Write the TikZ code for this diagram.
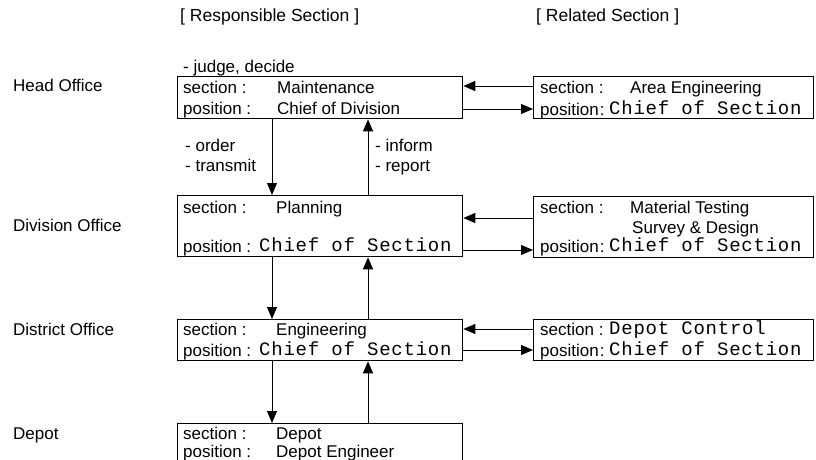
\documentclass[tikz,border=0pt]{standalone}
\usepackage{fontspec}
\setmainfont{Liberation Sans}
\newfontfamily\courfont[LetterSpace=4]{Liberation Mono}
\usetikzlibrary{arrows.meta,calc}

\tikzset{
  unitbox/.style={draw=black, line width=1.3pt, rectangle, inner sep=0pt, anchor=north west},
  txt/.style={anchor=base west, inner sep=0pt, font=\fontsize{17}{20}\selectfont},
  mono/.style={anchor=base west, inner sep=0pt, font=\courfont\fontsize{19}{21}\selectfont},
  heading/.style={anchor=base west, inner sep=0pt, font=\fontsize{17.5}{20}\selectfont},
  flow/.style={draw=black, line width=1pt, -{Triangle[length=12pt,width=10pt]}},
}

\begin{document}
\begin{tikzpicture}[x=1pt, y=-1pt]
\useasboundingbox (0,0) rectangle (816,460);
\clip (0,0) rectangle (816,460);

% column headings
\node[heading] (hresp) at (180,22) {[ Responsible Section ]};
\node[heading] (hrel)  at (536,22) {[ Related Section ]};

% organisation levels
\node[txt] (lhead)  at (13,92)  {Head Office};
\node[txt] (ldiv)   at (13,231) {Division Office};
\node[txt] (ldist)  at (13,335) {District Office};
\node[txt] (ldepot) at (13,439) {Depot};

% responsible section boxes
\node[unitbox, minimum width=285pt, minimum height=42pt] (b1) at (177,76)  {};
\node[unitbox, minimum width=285pt, minimum height=61pt] (b2) at (177,195) {};
\node[unitbox, minimum width=285pt, minimum height=41pt] (b3) at (177,319) {};
\node[unitbox, minimum width=285pt, minimum height=60pt] (b4) at (177,423) {};

% related section boxes
\node[unitbox, minimum width=280pt, minimum height=42pt] (r1) at (533,76)  {};
\node[unitbox, minimum width=280pt, minimum height=61pt] (r2) at (533,196) {};
\node[unitbox, minimum width=280pt, minimum height=41pt] (r3) at (533,319) {};

% Head Office
\node[txt] (judge) at (183,72) {- judge, decide};
\node[txt] (b1s)  at (183,93)  {section :};
\node[txt] (b1sv) at (277,93)  {Maintenance};
\node[txt] (b1p)  at (183,114) {position :};
\node[txt] (b1pv) at (277,114) {Chief of Division};

\node[txt]  (r1s)  at (540,93)  {section :};
\node[txt]  (r1sv) at (630,93)  {Area Engineering};
\node[txt]  (r1p)  at (540,115) {position\hspace{1pt}:};
\node[mono] (r1pv) at (609,114) {Chief of Section};

% Division Office
\node[txt]  (b2s)  at (183,213) {section :};
\node[txt]  (b2sv) at (276,213) {Planning};
\node[txt]  (b2p)  at (183,252) {position :};
\node[mono] (b2pv) at (259,251) {Chief of Section};

\node[txt]  (r2s)  at (540,213) {section :};
\node[txt]  (r2sv) at (630,213) {Material Testing};
\node[txt]  (r2sw) at (632,233) {Survey \& Design};
\node[txt]  (r2p)  at (540,252) {position\hspace{1pt}:};
\node[mono] (r2pv) at (609,251) {Chief of Section};

% District Office
\node[txt]  (b3s)  at (183,335) {section :};
\node[txt]  (b3sv) at (276,335) {Engineering};
\node[txt]  (b3p)  at (183,356) {position :};
\node[mono] (b3pv) at (259,355) {Chief of Section};

\node[txt]  (r3s)  at (540,335) {section :};
\node[mono] (r3sv) at (609,334) {Depot Control};
\node[txt]  (r3p)  at (540,356) {position\hspace{1pt}:};
\node[mono] (r3pv) at (609,355) {Chief of Section};

% Depot
\node[txt] (b4s)  at (183,439) {section :};
\node[txt] (b4sv) at (276,439) {Depot};
\node[txt] (b4p)  at (183,457) {position :};
\node[txt] (b4pv) at (276,457) {Depot Engineer};

% instruction / reporting notes
\node[txt] (order)    at (185,151) {- order};
\node[txt] (transmit) at (185,171) {- transmit};
\node[txt] (inform)   at (375,151) {- inform};
\node[txt] (report)   at (375,171) {- report};

% vertical flows: orders down, reports up
\draw[flow] ($(b1.south west)+(95,0)$)  -- ($(b2.north west)+(95,0)$);
\draw[flow] ($(b2.north west)+(191,0)$) -- ($(b1.south west)+(191,0)$);
\draw[flow] ($(b2.south west)+(95,0)$)  -- ($(b3.north west)+(95,0)$);
\draw[flow] ($(b3.north west)+(191,0)$) -- ($(b2.south west)+(191,0)$);
\draw[flow] ($(b3.south west)+(95,0)$)  -- ($(b4.north west)+(95,0)$);
\draw[flow] ($(b4.north west)+(191,0)$) -- ($(b3.south west)+(191,0)$);

% horizontal flows between responsible and related sections
\draw[flow] ($(r1.north west)+(0,10)$) -- ($(b1.north east)+(0,10)$);
\draw[flow] ($(b1.north east)+(0,33)$) -- ($(r1.north west)+(0,33)$);
\draw[flow] ($(r2.north west)+(0,22)$) -- ($(b2.north east)+(0,23)$);
\draw[flow] ($(b2.north east)+(0,55)$) -- ($(r2.north west)+(0,54)$);
\draw[flow] ($(r3.north west)+(0,10)$) -- ($(b3.north east)+(0,10)$);
\draw[flow] ($(b3.north east)+(0,31)$) -- ($(r3.north west)+(0,31)$);
\end{tikzpicture}
\end{document}
